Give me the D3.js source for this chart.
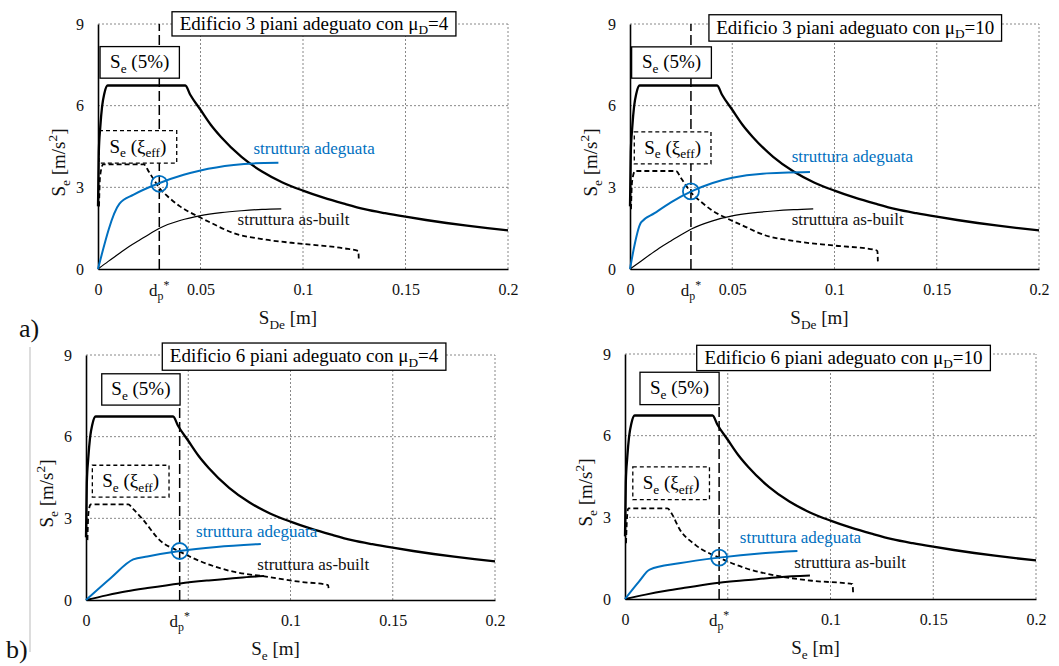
<!DOCTYPE html>
<html>
<head>
<meta charset="utf-8">
<script src="https://cdn.jsdelivr.net/npm/d3@7"></script>
<style>
  body { margin: 0; background: #fff; }
  svg { display: block; }
</style>
</head>
<body>
<div id="chart"></div>
<script>
// ---- data ----
var yTicks = [0, 3, 6, 9];
var xTicksTop = [0, 0.05, 0.1, 0.15, 0.2];
var xTicksBottom = [0, 0.1, 0.15, 0.2];
var gridX = [0.05, 0.1, 0.15, 0.2];
var gridY = [3, 6, 9];

// elastic spectrum 5% (same in all panels)
var se5Curve = [[0,2.3],[0.0004,4.3],[0.0011,5.2],[0.002,5.97],[0.0031,6.45],[0.0047,6.74],[0.0426,6.74],
  [0.045,6.4],[0.05,5.85],[0.055,5.3],[0.06,4.85],[0.07,4.12],[0.08,3.58],[0.09,3.18],[0.1,2.88],
  [0.11,2.62],[0.12,2.4],[0.13,2.2],[0.14,2.05],[0.15,1.92],[0.16,1.8],[0.17,1.69],[0.18,1.59],
  [0.19,1.5],[0.2,1.42]];

// reduced spectrum Se(xi_eff)
var seEff3p4 = [[0.0005,2.3],[0.001,3.4],[0.0025,3.84],[0.0223,3.84],[0.025,3.55],[0.03,2.97],[0.035,2.6],
  [0.04,2.3],[0.048,1.96],[0.055,1.7],[0.066,1.32],[0.08,1.1],[0.1,0.92],[0.12,0.76],[0.127,0.66],[0.1272,0.37]];
var seEff3p10 = [[0.0005,2.2],[0.001,3.2],[0.0025,3.6],[0.0225,3.6],[0.025,3.33],[0.03,2.8],[0.035,2.45],
  [0.04,2.16],[0.048,1.84],[0.055,1.6],[0.066,1.24],[0.08,1.03],[0.1,0.86],[0.12,0.7],[0.121,0.65],[0.1212,0.28]];
var seEff6p4 = [[0.0007,2.2],[0.0012,3.2],[0.0023,3.51],[0.0207,3.51],[0.023,3.35],[0.028,2.94],[0.036,2.2],
  [0.0458,1.78],[0.0557,1.43],[0.072,1.04],[0.088,0.86],[0.1046,0.67],[0.1184,0.55],[0.1187,0.37]];
var seEff6p10 = [[0.0005,2.05],[0.001,3.0],[0.0016,3.33],[0.0206,3.33],[0.023,3.1],[0.0263,2.6],[0.0344,1.98],
  [0.0458,1.52],[0.0588,1.13],[0.075,0.84],[0.091,0.67],[0.1107,0.55],[0.111,0.23]];

// capacity curves, retrofitted structure
var adeg3p4 = [[0,0],[0.0105,2.4],[0.0174,2.73],[0.0291,3.13],[0.0418,3.46],[0.05,3.62],[0.0662,3.82],[0.076,3.88],[0.088,3.9]];
var adeg3p10 = [[0,0],[0.0054,1.71],[0.012,2.05],[0.02,2.45],[0.03,2.85],[0.0404,3.16],[0.05,3.35],[0.0648,3.5],[0.088,3.56]];
var adeg6p4 = [[0,0],[0.012,0.8],[0.0231,1.49],[0.03,1.6],[0.0458,1.8],[0.0638,1.95],[0.0855,2.06]];
var adeg6p10 = [[0,0],[0.0068,0.64],[0.012,1.08],[0.0263,1.31],[0.0458,1.52],[0.0669,1.68],[0.0839,1.76]];

// capacity curves, as-built structure
var asBuilt3p4 = [[0,0],[0.005,0.28],[0.01,0.55],[0.015,0.82],[0.02,1.05],[0.025,1.28],[0.03,1.5],[0.04,1.78],
  [0.05,1.96],[0.06,2.07],[0.07,2.14],[0.08,2.19],[0.0894,2.21]];
var asBuilt3p10 = [[0,0],[0.005,0.27],[0.01,0.54],[0.015,0.8],[0.02,1.03],[0.025,1.26],[0.03,1.47],[0.04,1.76],
  [0.05,1.95],[0.06,2.06],[0.07,2.13],[0.08,2.18],[0.0896,2.21]];
var asBuilt6p4 = [[0,0],[0.01,0.17],[0.02,0.32],[0.03,0.44],[0.046,0.61],[0.06,0.72],[0.075,0.82],[0.087,0.88]];
var asBuilt6p10 = [[0,0],[0.01,0.16],[0.02,0.3],[0.03,0.42],[0.0458,0.6],[0.06,0.7],[0.075,0.8],[0.09,0.86]];

// performance point d_p* and its spectral acceleration
var dpStar = [0.0299, 0.0298, 0.0458, 0.0458];
var dpSe = [3.13, 2.85, 1.8, 1.52];

var floors = ["3", "3", "6", "6"];
var muD = ["4", "10", "4", "10"];

// ---- layout ----
var W = 1059, H = 666;
var FONT = "Liberation Serif";
var BLUE = "#0070C0";

var svg = d3.select("#chart").append("svg")
  .attr("width", W).attr("height", H)
  .attr("font-family", FONT);

// write text with sub/superscripts
function rich(t, parts, fs) {
  var off = 0;
  t.attr("font-family", FONT);
  parts.forEach(function(p) {
    var k = p[1];
    var target = k === "sub" ? fs * 0.25 : (k === "sup" ? -fs * 0.42 : 0);
    t.append("tspan")
      .attr("dy", target - off)
      .attr("font-size", k ? fs * 0.7 : fs)
      .text(p[0]);
    off = target;
  });
  return t;
}

// panel boxes (pixels) + annotation positions (data units)
var panels = [
  {left: 98, right: 508, top: 24, bottom: 269, xTicks: xTicksTop, xLabel: "De", dpTop: 9,
   se5: se5Curve, eff: seEff3p4, adeg: adeg3p4, asb: asBuilt3p4, asbW: 1.2,
   title: [0.0361, 0.1746, 9.45, 8.56], box5: [0.001, 0.0397, 8.17, 7.01], boxEff: [0.0005, 0.0384, 5.08, 3.89],
   adegTxt: [0.0758, 4.22], asbTxt: [0.0681, 1.62]},
  {left: 630, right: 1039, top: 24, bottom: 269, xTicks: xTicksTop, xLabel: "De", dpTop: 9,
   se5: se5Curve, eff: seEff3p10, adeg: adeg3p10, asb: asBuilt3p10, asbW: 1.2,
   title: [0.0386, 0.1817, 9.34, 8.37], box5: [0.0008, 0.0398, 8.16, 7.01], boxEff: [0.0021, 0.0396, 5.04, 3.86],
   adegTxt: [0.0791, 3.92], asbTxt: [0.0791, 1.62]},
  {left: 86, right: 495, top: 355, bottom: 600, xTicks: xTicksBottom, xLabel: "e", dpTop: 7.16,
   se5: se5Curve, eff: seEff6p4, adeg: adeg6p4, asb: asBuilt6p4, asbW: 2,
   title: [0.0373, 0.176, 9.44, 8.44], box5: [0.0077, 0.046, 8.31, 7.16], boxEff: [0.0031, 0.0406, 4.95, 3.78],
   adegTxt: [0.0538, 2.31], asbTxt: [0.0838, 1.11]},
  {left: 625, right: 1036, top: 354, bottom: 599, xTicks: xTicksBottom, xLabel: "e", dpTop: 7.14,
   se5: se5Curve, eff: seEff6p10, adeg: adeg6p10, asb: asBuilt6p10, asbW: 2,
   title: [0.0349, 0.1778, 9.32, 8.39], box5: [0.0073, 0.0458, 8.33, 7.14], boxEff: [0.0038, 0.0411, 4.85, 3.65],
   adegTxt: [0.0559, 2.06], asbTxt: [0.0823, 1.14]}
];

function drawBox(g, x, y, b, dashed, parts, fs) {
  var x0 = x(b[0]), x1 = x(b[1]), y0 = y(b[2]), y1 = y(b[3]);
  g.append("rect")
    .attr("x", x0).attr("y", y0)
    .attr("width", x1 - x0).attr("height", y1 - y0)
    .attr("fill", "#fff")
    .attr("stroke", "#000")
    .attr("stroke-width", 1.3)
    .attr("stroke-dasharray", dashed ? "4,3" : null);
  var t = g.append("text")
    .attr("x", (x0 + x1) / 2)
    .attr("y", (y0 + y1) / 2 + fs * 0.3)
    .attr("text-anchor", "middle")
    .attr("fill", "#000");
  rich(t, parts, fs);
}

panels.forEach(function(p, i) {
  var x = d3.scaleLinear().domain([0, 0.2]).range([p.left, p.right]);
  var y = d3.scaleLinear().domain([0, 9]).range([p.bottom, p.top]);
  var g = svg.append("g").attr("class", "panel");

  // dotted grid
  g.selectAll("line.gx").data(gridX).join("line").attr("class", "gx")
    .attr("x1", d => x(d)).attr("x2", d => x(d))
    .attr("y1", y(0)).attr("y2", y(9))
    .attr("stroke", "#888").attr("stroke-width", 1).attr("stroke-dasharray", "2,2");
  g.selectAll("line.gy").data(gridY).join("line").attr("class", "gy")
    .attr("x1", x(0)).attr("x2", x(0.2))
    .attr("y1", d => y(d)).attr("y2", d => y(d))
    .attr("stroke", "#888").attr("stroke-width", 1).attr("stroke-dasharray", "2,2");

  // axes
  var ax = g.append("g")
    .attr("transform", "translate(0," + y(0) + ")")
    .call(d3.axisBottom(x).tickValues(p.xTicks).tickSize(0).tickSizeOuter(0).tickPadding(15).tickFormat(d => String(d)));
  var ay = g.append("g")
    .attr("transform", "translate(" + x(0) + ",0)")
    .call(d3.axisLeft(y).tickValues(yTicks).tickSize(0).tickSizeOuter(0).tickPadding(14).tickFormat(d => String(d)));
  [ax, ay].forEach(function(a) {
    a.attr("font-family", FONT).attr("font-size", 16);
    a.select(".domain").attr("stroke", "#000").attr("stroke-width", 1.6);
    a.selectAll("text").attr("font-family", FONT).attr("font-size", 16).attr("fill", "#111");
  });

  // d_p* vertical dashed line
  g.append("line")
    .attr("x1", x(dpStar[i])).attr("x2", x(dpStar[i]))
    .attr("y1", y(0)).attr("y2", y(p.dpTop))
    .attr("stroke", "#000").attr("stroke-width", 1.5).attr("stroke-dasharray", "10,4");

  // label boxes
  drawBox(g, x, y, p.title, false,
    [["Edificio  " + floors[i] + "  piani  adeguato  con  μ"], ["D", "sub"], ["=" + muD[i]]], 19);
  drawBox(g, x, y, p.box5, false, [["S"], ["e", "sub"], [" (5%)"]], 19);
  drawBox(g, x, y, p.boxEff, true, [["S"], ["e", "sub"], [" (ξ"], ["eff", "sub"], [")"]], 19);

  var line = d3.line().x(d => x(d[0])).y(d => y(d[1])).curve(d3.curveMonotoneX);

  g.append("path").datum(p.asb).attr("d", line)
    .attr("fill", "none").attr("stroke", "#000").attr("stroke-width", p.asbW);
  g.append("path").datum(p.eff).attr("d", line)
    .attr("fill", "none").attr("stroke", "#000").attr("stroke-width", 1.8).attr("stroke-dasharray", "5,3");
  g.append("path").datum(p.se5).attr("d", line)
    .attr("fill", "none").attr("stroke", "#000").attr("stroke-width", 2.3);
  g.append("path").datum(p.adeg).attr("d", line)
    .attr("fill", "none").attr("stroke", BLUE).attr("stroke-width", 2);

  // performance point
  g.append("circle")
    .attr("cx", x(dpStar[i])).attr("cy", y(dpSe[i])).attr("r", 8)
    .attr("fill", "none").attr("stroke", BLUE).attr("stroke-width", 1.8);

  // curve labels
  g.append("text")
    .attr("x", x(p.adegTxt[0])).attr("y", y(p.adegTxt[1]))
    .attr("font-family", FONT).attr("font-size", 17).attr("fill", BLUE)
    .text("struttura  adeguata");
  g.append("text")
    .attr("x", x(p.asbTxt[0])).attr("y", y(p.asbTxt[1]))
    .attr("font-family", FONT).attr("font-size", 17).attr("fill", "#111")
    .text("struttura  as-built");

  // d_p* tick label
  rich(g.append("text")
    .attr("x", x(dpStar[i])).attr("y", y(0) + 27)
    .attr("text-anchor", "middle").attr("fill", "#111"),
    [["d"], ["p", "sub"], ["*", "sup"]], 17);

  // axis titles
  rich(g.append("text")
    .attr("x", (p.left + p.right) / 2 - 15).attr("y", p.bottom + 55)
    .attr("text-anchor", "middle").attr("fill", "#111"),
    [["S"], [p.xLabel, "sub"], [" [m]"]], 19);
  rich(g.append("text")
    .attr("transform", "translate(" + (p.left - 33) + "," + ((p.top + p.bottom) / 2 + 16) + ") rotate(-90)")
    .attr("text-anchor", "middle").attr("fill", "#111"),
    [["S"], ["e", "sub"], [" [m/s"], ["2", "sup"], ["]"]], 19);
});

// sub-figure letters and separator
svg.append("line")
  .attr("x1", 30).attr("x2", 30).attr("y1", 347).attr("y2", 652)
  .attr("stroke", "#bbb").attr("stroke-width", 1);
svg.append("text").attr("x", 19).attr("y", 337).attr("font-family", FONT).attr("font-size", 26).attr("fill", "#111").text("a)");
svg.append("text").attr("x", 6).attr("y", 658).attr("font-family", FONT).attr("font-size", 26).attr("fill", "#111").text("b)");
</script>
</body>
</html>
